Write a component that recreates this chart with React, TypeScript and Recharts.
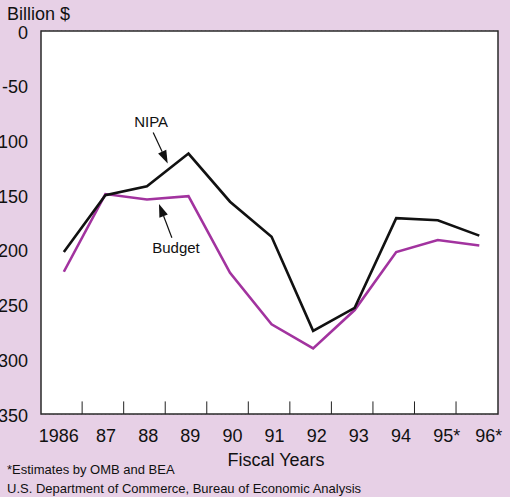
import React from "react";
import { LineChart, Line, XAxis, YAxis, CartesianGrid, ReferenceArea, ReferenceLine, ReferenceDot } from "recharts";

const years = ["1986", "87", "88", "89", "90", "91", "92", "93", "94", "95*", "96*"];
const nipa = [-202, -150, -142, -112, -156, -188, -274, -253, -171, -173, -187];
const budget = [-220, -149, -154, -151, -221, -268, -290, -255, -202, -191, -196];
const yTicks = [0, -50, -100, -150, -200, -250, -300, -350];

const data = years.map((year, i) => ({ i, year, nipa: nipa[i], budget: budget[i] }));
const boundaries = years.slice(1).map((_, i) => i + 0.44);

const FONT = "'Liberation Sans', Arial, Helvetica, sans-serif";
const BG = "#e7d0e6";
const PURPLE = "#a2339f";

function YearTick(props: any) {
  const { x, y, payload, index } = props;
  const label = years[payload.value] ?? "";
  const digits = label.replace("*", "");
  const star = label.endsWith("*");
  const cx = x + index * 0.6 - (digits.length > 2 ? 5 : 0);
  return (
    <g>
      <text x={cx} y={y + 28} textAnchor="middle" fontSize={18} fill="#111" fontFamily={FONT}>
        {digits}
      </text>
      {star && (
        <text x={cx + 10} y={y + 28} textAnchor="start" fontSize={18} fill="#111" fontFamily={FONT}>
          *
        </text>
      )}
    </g>
  );
}

function ValueTick(props: any) {
  const { y, payload } = props;
  return (
    <text x={28} y={y + 7.5} textAnchor="end" fontSize={18} fill="#111" fontFamily={FONT}>
      {payload.value}
    </text>
  );
}

function Arrow(props: any) {
  const { x1, y1, x2, y2 } = props;
  const ang = Math.atan2(y2 - y1, x2 - x1);
  const len = 13;
  const half = 4.5;
  const bx = x2 - len * Math.cos(ang);
  const by = y2 - len * Math.sin(ang);
  const px = -Math.sin(ang) * half;
  const py = Math.cos(ang) * half;
  return (
    <g>
      <line x1={x1} y1={y1} x2={bx} y2={by} stroke="#111" strokeWidth={1.2} />
      <polygon points={`${x2},${y2} ${bx + px},${by + py} ${bx - px},${by - py}`} fill="#111" />
    </g>
  );
}

export default function App() {
  return (
    <div style={{ position: "absolute", left: 0, top: 0, width: 510, height: 497, background: BG, overflow: "hidden" }}>
      <LineChart width={510} height={497} data={data} margin={{ top: 31, right: 12, left: 0, bottom: 0 }}>
        <ReferenceArea x1={-0.55} x2={10.45} y1={-350} y2={0} fill="#ffffff" fillOpacity={1} stroke="none" />
        <CartesianGrid vertical={false} stroke="#8a8a8a" strokeDasharray="1 3" />
        <XAxis
          type="number"
          dataKey="i"
          domain={[-0.55, 10.45]}
          ticks={years.map((_, i) => i)}
          tick={<YearTick />}
          tickLine={false}
          axisLine={false}
          tickSize={0}
          tickMargin={0}
          height={83}
          interval={0}
        />
        <YAxis
          type="number"
          domain={[-350, 0]}
          ticks={yTicks}
          width={41}
          tickLine={false}
          axisLine={false}
          interval={0}
          tick={<ValueTick />}
        />
        {boundaries.map((b) => (
          <ReferenceLine
            key={b}
            segment={[
              { x: b, y: -350 },
              { x: b, y: -338.5 },
            ]}
            stroke="#222"
            strokeWidth={1}
          />
        ))}
        <Line type="linear" dataKey="budget" stroke={PURPLE} strokeWidth={2.6} dot={false} isAnimationActive={false} />
        <Line type="linear" dataKey="nipa" stroke="#111" strokeWidth={2.6} dot={false} isAnimationActive={false} />
        <ReferenceLine
          segment={[
            { x: 2.15, y: -92.7 },
            { x: 2.5, y: -121 },
          ]}
          shape={<Arrow />}
        />
        <ReferenceLine
          segment={[
            { x: 2.6, y: -189 },
            { x: 2.29, y: -158 },
          ]}
          shape={<Arrow />}
        />
        <ReferenceDot
          x={2.1}
          y={-83}
          r={0}
          fill="none"
          stroke="none"
          label={{ value: "NIPA", position: "center", fontSize: 15, fill: "#111", fontFamily: FONT }}
        />
        <ReferenceDot
          x={2.7}
          y={-198}
          r={0}
          fill="none"
          stroke="none"
          label={{ value: "Budget", position: "center", fontSize: 15, fill: "#111", fontFamily: FONT }}
        />
        <ReferenceArea x1={-0.55} x2={10.45} y1={-350} y2={0} fill="none" stroke="#2a2a2a" strokeWidth={1.5} />
      </LineChart>
      <svg width={510} height={497} style={{ position: "absolute", left: 0, top: 0, pointerEvents: "none" }}>
        <text x={7} y={20} fontSize={18} fill="#111" fontFamily={FONT}>
          Billion $
        </text>
        <text x={276} y={466} textAnchor="middle" fontSize={18} fill="#111" fontFamily={FONT}>
          Fiscal Years
        </text>
        <text x={7} y={474} fontSize={13} fill="#111" fontFamily={FONT}>
          *Estimates by OMB and BEA
        </text>
        <text x={7} y={493} fontSize={13} fill="#111" fontFamily={FONT}>
          U.S. Department of Commerce, Bureau of Economic Analysis
        </text>
      </svg>
    </div>
  );
}
